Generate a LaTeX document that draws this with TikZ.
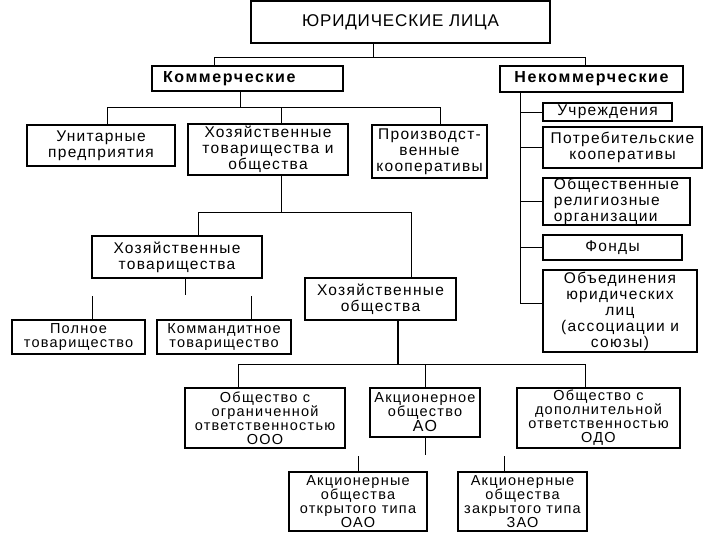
\documentclass[tikz,border=0pt]{standalone}
\usepackage{fontspec}
\setmainfont{Liberation Sans}[LetterSpace=8.5]
\usetikzlibrary{positioning}

\begin{document}
\begin{tikzpicture}[
    x=1pt, y=-1pt,
    box/.style={draw, line width=1.6pt, inner sep=0pt, align=center, font=\fontsize{15.5}{16}\selectfont},
    heavy/.style={box, line width=2.6pt},
    small/.style={font=\fontsize{14.5}{14}\selectfont},
    head/.style={font=\bfseries\fontsize{16}{16}\selectfont\addfontfeature{LetterSpace=10}},
    wh/.style 2 args={minimum width=#1, minimum height=#2},
    link/.style={line width=0.9pt}
]
\useasboundingbox (0,0) rectangle (720,540);

% top levels
\node[box, wh={299pt}{42pt}, font=\fontsize{17}{18}\selectfont\addfontfeature{LetterSpace=5}] (legal) at (400.5,22) {ЮРИДИЧЕСКИЕ ЛИЦА};
\node[box, head, wh={191pt}{25pt}, line width=2pt, align=left, text width=169pt] (kom) at (247.5,78.5) {Коммерческие};
\node[heavy, head, wh={183pt}{26pt}] (nekom) at (591.5,79) {Некоммерческие};

% commercial
\node[box, wh={148pt}{41pt}] (unit) at (101,145.5) {Унитарные\\предприятия};
\node[heavy, wh={160pt}{51pt}] (hto) at (268,149.5) {Хозяйственные\\товарищества и\\общества};
\node[box, wh={115pt}{53pt}] (coop) at (429.5,151.5) {Производст-\\венные\\кооперативы};

% non-commercial
\node[box, wh={129pt}{18pt}] (inst) at (607.5,112) {Учреждения};
\node[heavy, wh={159pt}{41pt}] (potreb) at (622.5,147.5) {Потребительские\\кооперативы};
\node[box, wh={147pt}{47pt}, align=left] (relig) at (616.5,201.5) {Общественные\\религиозные\\организации};
\node[box, wh={139pt}{25pt}] (fund) at (612.5,247.5) {Фонды};
\node[box, wh={154pt}{82pt}] (union) at (620,311) {Объединения\\юридических\\лиц\\(ассоциации и\\союзы)};

% partnerships and companies
\node[box, wh={170pt}{42pt}] (htov) at (177,257) {Хозяйственные\\товарищества};
\node[heavy, wh={151pt}{42pt}] (hobsh) at (380.5,299) {Хозяйственные\\общества};
\node[box, small, wh={133pt}{34pt}] (full) at (78.5,337) {Полное\\товарищество};
\node[box, small, wh={134pt}{34pt}] (kommand) at (224,337) {Коммандитное\\товарищество};

\node[heavy, small, wh={160pt}{60pt}] (ooo) at (265,418) {Общество с\\ограниченной\\ответственностью\\ООО};
\node[heavy, small, wh={110pt}{49pt}] (ao) at (425,412.5) {Акционерное\\общество\\{\fontsize{16}{16}\selectfont АО}};
\node[heavy, small, wh={163pt}{60pt}] (odo) at (598.5,418) {Общество с\\дополнительной\\ответственностью\\ОДО};
\node[box, small, wh={138pt}{59pt}] (oao) at (358,501.5) {Акционерные\\общества\\открытого типа\\ОАО};
\node[box, small, wh={129pt}{59pt}] (zao) at (522.5,501.5) {Акционерные\\общества\\закрытого типа\\ЗАО};

% forks
\coordinate (f1) at (373,57);
\coordinate (f2) at (240,107);
\coordinate (f3) at (520,92);
\coordinate (f4) at (281,212);
\coordinate (f6) at (398,364);
\coordinate (c1) at (238,364);
\coordinate (c3) at (585,364);
\coordinate (s0) at (185,295);
\coordinate (s1) at (92,296);
\coordinate (s2) at (251,296);
\coordinate (s3) at (425,455);
\coordinate (s4) at (358,456);
\coordinate (s5) at (504,456);

\draw[link] (legal.south -| f1) -- (f1) -| ([xshift=-33.5pt]kom.north);
\draw[link] (f1) -| ([xshift=-6.5pt]nekom.north);

\draw[link] (kom.south -| f2) -- (f2) -| ([xshift=6pt]unit.north);
\draw[link] (f2) -| ([xshift=13pt]hto.north);
\draw[link] (f2) -| ([xshift=10.5pt]coop.north);

\draw[link] (nekom.south -| f3) |- (inst.west);
\draw[link] (f3) |- (potreb.west);
\draw[link] (f3) |- (relig.west);
\draw[link] (f3) |- (fund.west);
\draw[link] (f3) |- ([yshift=8pt]union.west);

\draw[link] (hto.south -| f4) -- (f4) -| ([xshift=21pt]htov.north);
\draw[link] (f4) -| ([xshift=30.5pt]hobsh.north);

\draw[link] (htov.south -| s0) -- (s0);
\draw[link] (s1) -- (full.north -| s1);
\draw[link] (s2) -- (kommand.north -| s2);

\draw[link, line width=1.8pt] (hobsh.south -| f6) -- (f6);
\draw[link] (c1) -- (c3);
\draw[link] (c1) -- (ooo.north -| c1);
\draw[link] (ao.north |- f6) -- (ao.north);
\draw[link] (c3) -- (odo.north -| c3);

\draw[link] (ao.south) -- (s3);
\draw[link] (s4) -- (oao.north -| s4);
\draw[link] (s5) -- (zao.north -| s5);
\end{tikzpicture}
\end{document}
